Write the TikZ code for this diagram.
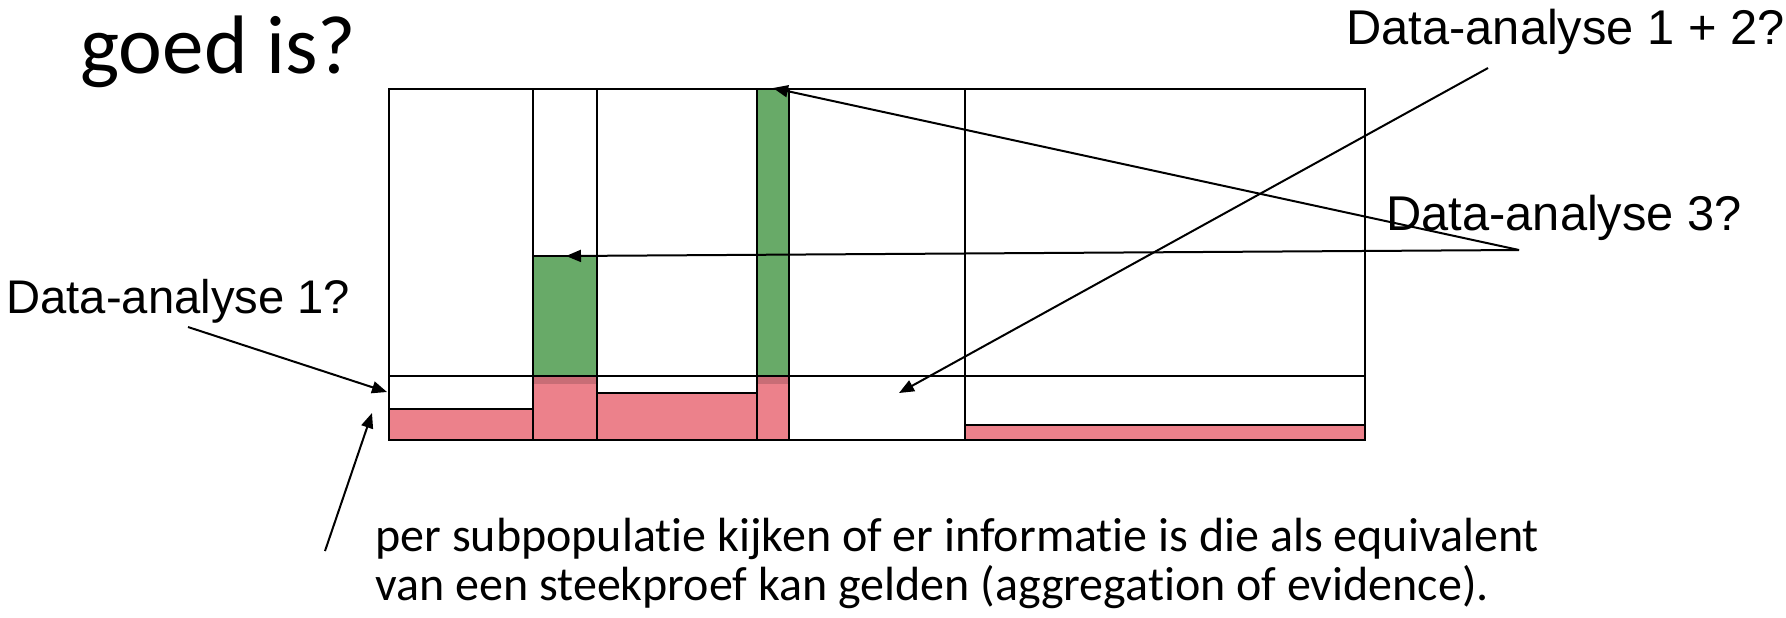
\documentclass[tikz,border=0pt]{standalone}
\usepackage{fontspec}
\setmainfont{Liberation Sans}
\newfontfamily\calibri[RawFeature={-liga;-clig;-calt;-dlig}]{Carlito}
\usetikzlibrary{arrows.meta}

\definecolor{barGreen}{RGB}{104,170,104}
\definecolor{barRed}{RGB}{236,129,139}

\begin{document}
\begin{tikzpicture}[x=0.5pt, y=-0.5pt,
  grid/.style={line width=1.4pt},
  pointer/.style={-{Triangle[length=7.5pt,width=6pt]}, line width=1pt},
  lbl/.style={font=\fontsize{24.4}{29}\selectfont, inner sep=0pt, anchor=base west},
  note/.style={font=\calibri\fontsize{24}{24.2}\selectfont, inner sep=0pt, anchor=base west, align=left}]
\useasboundingbox (0,0) rectangle (1786,617);

\node[font=\calibri\fontsize{41.5}{48}\selectfont, inner sep=0pt, anchor=base west] (title) at (80,73) {goed is?};

% filled blocks per subpopulation
\fill[barRed] (389,409) rectangle (533,440);
\fill[barRed] (533,376) rectangle (597,440);
\fill[barRed] (597,393) rectangle (757,440);
\fill[barRed] (757,376) rectangle (789,440);
\fill[barRed] (965,425) rectangle (1365,440);
\fill[barGreen] (533,256) rectangle (597,376);
\fill[barGreen] (757,89) rectangle (789,376);
\fill[black, opacity=0.15] (533,376) rectangle (597,384);
\fill[black, opacity=0.15] (757,376) rectangle (789,384);

% grid lines
\draw[grid] (389,89) rectangle (1365,440);
\draw[grid] (389,376) -- (1365,376);
\foreach \x in {533,597,757,789,965}
  \draw[grid] (\x,89) -- (\x,440);
\draw[grid] (389,409) -- (533,409);
\draw[grid] (597,393) -- (757,393);
\draw[grid] (965,425) -- (1365,425);
\draw[grid] (533,256) -- (597,256);

% labels
\node[lbl, font=\fontsize{23.6}{28}\selectfont] (da1) at (6,313) {Data-analyse 1?};
\node[lbl] (da12) at (1346,44) {Data-analyse 1 + 2?};
\node[lbl] (da3) at (1386,230) {Data-analyse 3?};
\node[note] (info) at (375,600) {per subpopulatie kijken of er informatie is die als equivalent\\van een steekproef kan gelden (aggregation of evidence).};

% arrow ends
\coordinate (from1) at (188,327);
\coordinate (to1) at (387,392);
\coordinate (fromlow) at (325,551);
\coordinate (tolow) at (372,413);
\coordinate (from12) at (1488,68);
\coordinate (to12) at (899,393);
\coordinate (from3) at (1519,250);
\coordinate (to3a) at (773,88);
\coordinate (to3b) at (566,256);

\draw[pointer] (from1) -- (to1);
\draw[pointer] (fromlow) -- (tolow);
\draw[pointer] (from12) -- (to12);
\draw[pointer] (from3) -- (to3a);
\draw[pointer] (from3) -- (to3b);
\end{tikzpicture}
\end{document}
